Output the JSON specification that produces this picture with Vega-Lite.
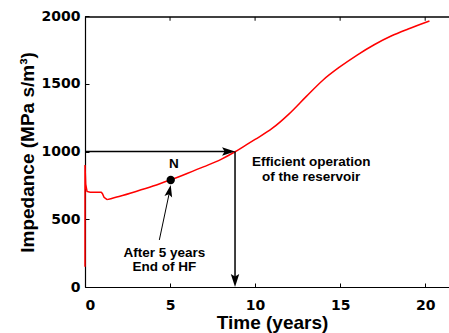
{
  "$schema": "https://vega.github.io/schema/vega-lite/v6.json",
  "width": 364,
  "height": 271,
  "autosize": {"type": "none"},
  "padding": {"left": 85, "top": 16, "right": 0, "bottom": 46},
  "background": "white",
  "config": {
    "view": {"stroke": null},
    "font": "Liberation Sans",
    "axis": {
      "grid": false,
      "domainColor": "black",
      "tickColor": "black",
      "labelColor": "black",
      "titleColor": "black",
      "labelFont": "DejaVu Sans",
      "labelFontWeight": "bold",
      "labelFontSize": 14,
      "titleFont": "Liberation Sans",
      "titleFontWeight": "bold",
      "titleFontSize": 19,
      "tickSize": -4,
      "domainWidth": 1.2,
      "tickWidth": 1,
      "format": "d"
    }
  },
  "datasets": {
    "early": [
      {"i": 0, "t": 0, "v": 150},
      {"i": 1, "t": 0, "v": 900},
      {"i": 2, "t": 0.04, "v": 760},
      {"i": 3, "t": 0.12, "v": 705},
      {"i": 4, "t": 0.3, "v": 700},
      {"i": 5, "t": 0.95, "v": 700},
      {"i": 6, "t": 1.02, "v": 690},
      {"i": 7, "t": 1.12, "v": 662},
      {"i": 8, "t": 1.3, "v": 645}
    ],
    "main": [
      {"t": 1.3, "v": 645},
      {"t": 2, "v": 668},
      {"t": 3, "v": 705},
      {"t": 4, "v": 745},
      {"t": 5, "v": 790},
      {"t": 6, "v": 838},
      {"t": 7, "v": 888},
      {"t": 8, "v": 942},
      {"t": 8.82, "v": 998},
      {"t": 9.5, "v": 1050},
      {"t": 10, "v": 1089},
      {"t": 11, "v": 1170},
      {"t": 12, "v": 1278},
      {"t": 13, "v": 1405},
      {"t": 14, "v": 1528},
      {"t": 15, "v": 1626},
      {"t": 16, "v": 1712},
      {"t": 17, "v": 1788},
      {"t": 18, "v": 1852},
      {"t": 19, "v": 1904},
      {"t": 20.25, "v": 1963}
    ],
    "arrows": [
      {"t": 0, "v": 1000, "t2": 8.3, "v2": 1000},
      {"t": 8.82, "v": 1000, "t2": 8.82, "v2": 60}
    ],
    "note": [
      {"t": 4.37, "v": 347, "t2": 5.0, "v2": 720}
    ],
    "border": [
      {"t": 0, "t2": 21.4, "v": 1993}
    ],
    "topTicks": [
      {"t": 5, "v": 1993, "v2": 1965},
      {"t": 10, "v": 1993, "v2": 1965},
      {"t": 15, "v": 1993, "v2": 1965},
      {"t": 20, "v": 1993, "v2": 1965}
    ],
    "headRight": [{"t": 8.82, "v": 1000}],
    "headDown": [{"t": 8.82, "v": 0}],
    "headNote": [{"t": 5.04, "v": 753}],
    "pointN": [{"t": 5.04, "v": 790}],
    "labels": [
      {"t": 5.23, "v": 876, "label": "N"},
      {"t": 4.67, "v": 218, "label": "After 5 years"},
      {"t": 4.67, "v": 116, "label": "End of HF"},
      {"t": 13.3, "v": 890, "label": "Efficient operation"},
      {"t": 13.3, "v": 780, "label": "of the reservoir"}
    ]
  },
  "layer": [
    {
      "data": {"name": "early"},
      "mark": {"type": "line", "color": "#ff0000", "strokeWidth": 1.5},
      "encoding": {
        "x": {
          "field": "t", "type": "quantitative",
          "scale": {"domain": [0, 21.4], "nice": false},
          "axis": {
            "values": [0, 5, 10, 15, 20],
            "title": "Time (years)",
            "labelPadding": 15,
            "titleX": 187,
            "titleY": 35,
            "titleBaseline": "middle",
            "titleAlign": "center"
          }
        },
        "y": {
          "field": "v", "type": "quantitative",
          "scale": {"domain": [0, 2000], "nice": false},
          "axis": {
            "values": [0, 500, 1000, 1500, 2000],
            "title": "Impedance (MPa s/m³)",
            "labelPadding": 9,
            "titleX": -58,
            "titleY": 136,
            "titleBaseline": "middle",
            "titleAlign": "center",
            "titleAngle": -90
          }
        },
        "order": {"field": "i", "type": "quantitative"}
      }
    },
    {
      "data": {"name": "main"},
      "mark": {"type": "line", "color": "#ff0000", "strokeWidth": 1.5, "interpolate": "monotone"},
      "encoding": {
        "x": {"field": "t", "type": "quantitative"},
        "y": {"field": "v", "type": "quantitative"}
      }
    },
    {
      "data": {"name": "border"},
      "mark": {"type": "rule", "color": "black", "strokeWidth": 1.5},
      "encoding": {
        "x": {"field": "t", "type": "quantitative"},
        "x2": {"field": "t2"},
        "y": {"field": "v", "type": "quantitative"}
      }
    },
    {
      "data": {"name": "topTicks"},
      "mark": {"type": "rule", "color": "black", "strokeWidth": 1},
      "encoding": {
        "x": {"field": "t", "type": "quantitative"},
        "y": {"field": "v", "type": "quantitative"},
        "y2": {"field": "v2"}
      }
    },
    {
      "data": {"name": "arrows"},
      "mark": {"type": "rule", "color": "black", "strokeWidth": 1.5},
      "encoding": {
        "x": {"field": "t", "type": "quantitative"},
        "y": {"field": "v", "type": "quantitative"},
        "x2": {"field": "t2"},
        "y2": {"field": "v2"}
      }
    },
    {
      "data": {"name": "note"},
      "mark": {"type": "rule", "color": "black", "strokeWidth": 1},
      "encoding": {
        "x": {"field": "t", "type": "quantitative"},
        "y": {"field": "v", "type": "quantitative"},
        "x2": {"field": "t2"},
        "y2": {"field": "v2"}
      }
    },
    {
      "data": {"name": "headRight"},
      "mark": {"type": "point", "shape": "M0,0L-2,-0.65L-1.6,0L-2,0.65Z", "size": 169, "filled": true, "color": "black", "opacity": 1, "angle": 0, "strokeWidth": 0},
      "encoding": {
        "x": {"field": "t", "type": "quantitative"},
        "y": {"field": "v", "type": "quantitative"}
      }
    },
    {
      "data": {"name": "headDown"},
      "mark": {"type": "point", "shape": "M0,0L-2,-0.65L-1.6,0L-2,0.65Z", "size": 169, "filled": true, "color": "black", "opacity": 1, "angle": 90, "strokeWidth": 0},
      "encoding": {
        "x": {"field": "t", "type": "quantitative"},
        "y": {"field": "v", "type": "quantitative"}
      }
    },
    {
      "data": {"name": "headNote"},
      "mark": {"type": "point", "shape": "M0,0L-2,-0.65L-1.6,0L-2,0.65Z", "size": 144, "filled": true, "color": "black", "opacity": 1, "angle": 281.7, "strokeWidth": 0},
      "encoding": {
        "x": {"field": "t", "type": "quantitative"},
        "y": {"field": "v", "type": "quantitative"}
      }
    },
    {
      "data": {"name": "pointN"},
      "mark": {"type": "point", "shape": "circle", "size": 70, "filled": true, "color": "black", "opacity": 1},
      "encoding": {
        "x": {"field": "t", "type": "quantitative"},
        "y": {"field": "v", "type": "quantitative"}
      }
    },
    {
      "data": {"name": "labels"},
      "mark": {"type": "text", "font": "Liberation Sans", "fontWeight": "bold", "fontSize": 13.5, "color": "black", "align": "center", "baseline": "alphabetic"},
      "encoding": {
        "x": {"field": "t", "type": "quantitative"},
        "y": {"field": "v", "type": "quantitative"},
        "text": {"field": "label"}
      }
    }
  ]
}
